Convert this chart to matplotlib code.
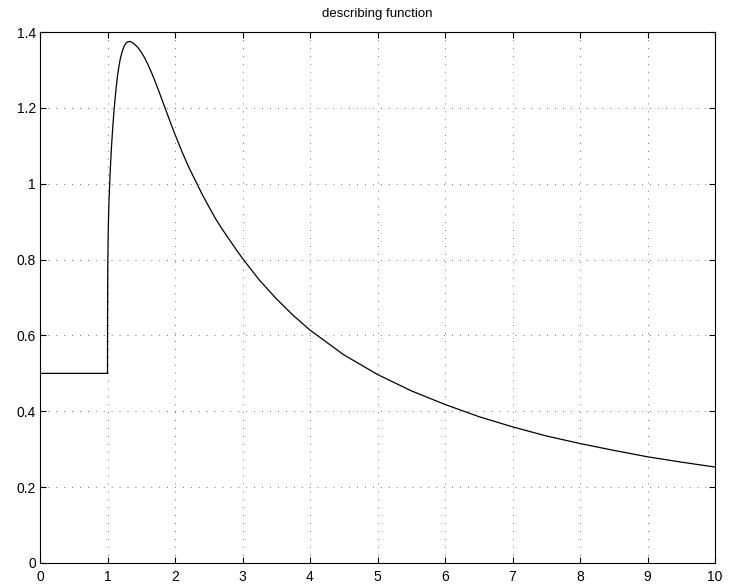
import matplotlib
matplotlib.use("Agg")
import matplotlib.pyplot as plt

# Values
x_vals = [0.0, 1.0, 1.0, 1.001, 1.004, 1.01, 1.02, 1.032, 1.045, 1.06, 1.08, 1.10,
          1.125, 1.15, 1.17, 1.19, 1.22, 1.25, 1.28, 1.30, 1.33, 1.35, 1.40, 1.45,
          1.50, 1.55, 1.60, 1.65, 1.70, 1.75, 1.80, 1.85, 1.90, 1.95, 2.0,
          2.1, 2.2, 2.3, 2.4, 2.5, 2.6, 2.7, 2.8, 2.9, 3.0, 3.25, 3.5, 3.75,
          4.0, 4.5, 5.0, 5.5, 6.0, 6.5, 7.0, 7.5, 8.0, 8.5, 9.0, 9.5, 10.0]
y_vals = [0.5, 0.5, 0.5, 0.65, 0.78, 0.87, 0.945, 1.0, 1.05, 1.10, 1.155, 1.20,
          1.248, 1.287, 1.31, 1.33, 1.35, 1.364, 1.372, 1.374, 1.375, 1.374, 1.368, 1.359,
          1.347, 1.332, 1.314, 1.294, 1.272, 1.249, 1.225, 1.201, 1.177, 1.153, 1.130,
          1.086, 1.045, 1.009, 0.973, 0.940, 0.908, 0.880, 0.854, 0.828, 0.803, 0.746, 0.697, 0.653,
          0.614, 0.549, 0.497, 0.454, 0.418, 0.386, 0.359, 0.335, 0.315, 0.297, 0.280, 0.266, 0.253]

title_text = "describing function"
x_ticks = [0, 1, 2, 3, 4, 5, 6, 7, 8, 9, 10]
y_ticks = [0, 0.2, 0.4, 0.6, 0.8, 1.0, 1.2, 1.4]
y_tick_labels = ["0", "0.2", "0.4", "0.6", "0.8", "1", "1.2", "1.4"]

plt.rcParams['font.family'] = ['Liberation Sans', 'DejaVu Sans']

fig = plt.figure(figsize=(7.34, 5.87), dpi=100)
ax = fig.add_axes([40/734, 1 - 563/587, 675/734, 531/587])

ax.plot(x_vals, y_vals, color='black', linewidth=0.9,
        solid_joinstyle='round', antialiased=True)

ax.set_xlim(0, 10)
ax.set_ylim(0, 1.4)
ax.set_xticks(x_ticks)
ax.set_xticklabels([str(t) for t in x_ticks])
ax.set_yticks(y_ticks)
ax.set_yticklabels(y_tick_labels)

ax.tick_params(direction='in', length=4, width=0.8, top=True, right=True,
               labelsize=10, colors='black')
ax.tick_params(axis='x', pad=5)
ax.tick_params(axis='y', pad=3)
for s in ax.spines.values():
    s.set_linewidth(0.8)
    s.set_color('black')

ax.grid(True, color='#444444', linewidth=0.6, linestyle=(0, (1, 8.5)))
ax.set_axisbelow(True)

ax.set_title(title_text, fontsize=9.5, pad=11)

fig.savefig("out.png", dpi=100)
